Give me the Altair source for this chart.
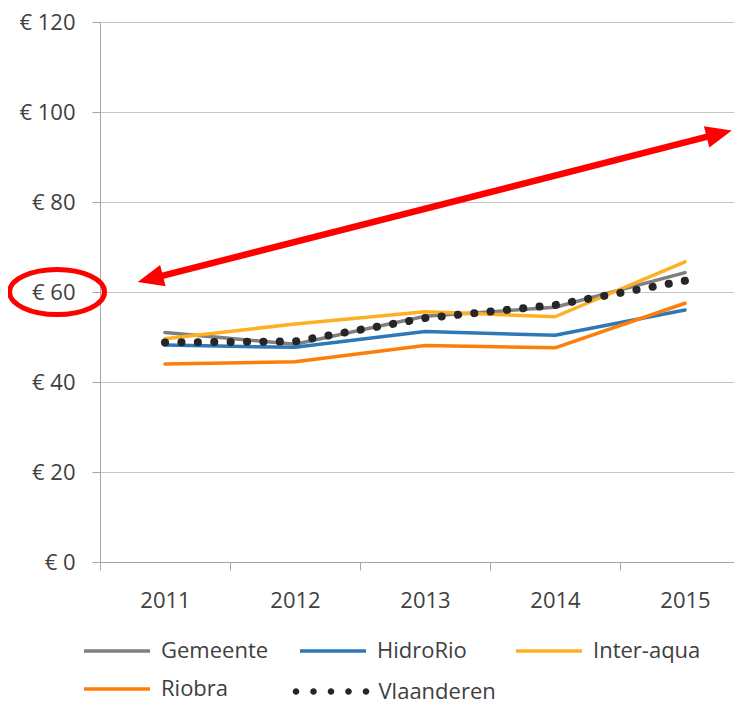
import math
import altair as alt
import pandas as pd

# ---------------- data ----------------
years = [2011, 2012, 2013, 2014, 2015]
series_names = ["Gemeente", "HidroRio", "Inter-aqua", "Riobra"]
gemeente = [51.0, 48.4, 54.6, 56.6, 64.3]
hidrorio = [48.2, 47.7, 51.2, 50.4, 56.0]
inter_aqua = [49.6, 52.9, 55.6, 54.5, 66.7]
riobra = [44.0, 44.5, 48.1, 47.6, 57.5]
series_values = [gemeente, hidrorio, inter_aqua, riobra]
series_colors = ["#7f7f7f", "#2e78b7", "#fdb022", "#fc7f0a"]
avg_name = "Vlaanderen"
vlaanderen = [48.8, 49.0, 54.2, 57.1, 62.5]
avg_color = "#262626"
y_ticks = [0, 20, 40, 60, 80, 100, 120]

# annotations (data units)
arrow_start = (2010.79, 62.2)
arrow_end = (2015.36, 95.9)
highlight_value = 60

# ---------------- layout ----------------
W, H = 634, 540
x_domain = [2010.5, 2010.5 + W / 130.0]
y_domain = [0, 120]
px_per_year = W / (x_domain[1] - x_domain[0])
px_per_eur = H / (y_domain[1] - y_domain[0])

FONT = "Open Sans"
TXT = "#404040"
AX = "#a6a6a6"

rows = []
for name, vals in zip(series_names, series_values):
    for yr, v in zip(years, vals):
        rows.append({"year": yr, "value": v, "series": name})
df = pd.DataFrame(rows)
df_avg = pd.DataFrame({"year": years, "value": vlaanderen, "series": [avg_name] * len(years)})

xs = alt.Scale(domain=x_domain, nice=False, zero=False)
ys = alt.Scale(domain=y_domain, nice=False, zero=False)

x_axis = alt.Axis(values=years, format="d", tickOffset=-65, labelOffset=65,
                  tickSize=8, labelPadding=20, grid=False, title=None,
                  domainColor=AX, tickColor=AX, labelFont=FONT, labelFontSize=22,
                  labelColor=TXT)
y_axis = alt.Axis(values=y_ticks, labelExpr="'€ ' + datum.value", tickSize=8,
                  labelPadding=17, grid=True, gridColor="#c4c4c4", title=None,
                  domainColor=AX, tickColor=AX, labelFont=FONT, labelFontSize=22,
                  labelColor=TXT)

# long horizontal stroke as legend symbol (66 px long for symbolSize 484)
stroke_path = "M -2 0 L 4 0"

lines = alt.Chart(df).mark_line(strokeWidth=3.5, strokeCap="round", strokeJoin="round").encode(
    x=alt.X("year:Q", scale=xs, axis=x_axis),
    y=alt.Y("value:Q", scale=ys, axis=y_axis),
    color=alt.Color("series:N",
                    scale=alt.Scale(domain=series_names, range=series_colors),
                    legend=alt.Legend(orient="none", legendX=-7, legendY=616,
                                      direction="horizontal", columns=3, title=None,
                                      symbolType=stroke_path, symbolSize=484,
                                      symbolStrokeWidth=3.5,
                                      labelFont=FONT, labelFontSize=22,
                                      labelColor=TXT, labelOffset=42, gridAlign="all",
                                      columnPadding=24, rowPadding=14, padding=0)),
)

# five round dots as legend symbol for the dotted average line
r = 0.19
dots_path = " ".join(
    f"M {c - r:.3f} 0 A {r} {r} 0 1 0 {c + r:.3f} 0 A {r} {r} 0 1 0 {c - r:.3f} 0 Z"
    for c in (-2, -1, 0, 1, 2)
)

avg_line = alt.Chart(df_avg).mark_line(color=avg_color, strokeWidth=8, strokeCap="round",
                                       strokeDash=[0.1, 16.3]).encode(
    x=alt.X("year:Q", scale=xs),
    y=alt.Y("value:Q", scale=ys),
    opacity=alt.Opacity("series:N", scale=alt.Scale(domain=[avg_name], range=[1]),
                        legend=alt.Legend(orient="none", legendX=213.5, legendY=652,
                                          title=None, symbolType=dots_path, symbolSize=1225,
                                          symbolFillColor=avg_color, symbolStrokeWidth=0,
                                          symbolOpacity=1,
                                          labelFont=FONT, labelFontSize=22,
                                          labelColor=TXT, labelOffset=30, padding=0)),
)

# ---- double-headed arrow ----
dxp = (arrow_end[0] - arrow_start[0]) * px_per_year
dyp = (arrow_end[1] - arrow_start[1]) * px_per_eur
L = math.hypot(dxp, dyp)
theta = math.degrees(math.atan2(dyp, dxp))
short = 14.0 / L
shaft = pd.DataFrame({
    "x": [arrow_start[0] + (arrow_end[0] - arrow_start[0]) * short],
    "y": [arrow_start[1] + (arrow_end[1] - arrow_start[1]) * short],
    "x2": [arrow_end[0] - (arrow_end[0] - arrow_start[0]) * short],
    "y2": [arrow_end[1] - (arrow_end[1] - arrow_start[1]) * short],
})
shaft_layer = alt.Chart(shaft).mark_rule(color="#ff0000", strokeWidth=6.5).encode(
    x=alt.X("x:Q", scale=xs), y=alt.Y("y:Q", scale=ys), x2="x2:Q", y2="y2:Q")

head_path = "M 0 0 L -2.6 -1.1 L -2.6 1.1 Z"
head_r = pd.DataFrame({"x": [arrow_end[0]], "y": [arrow_end[1]]})
head_l = pd.DataFrame({"x": [arrow_start[0]], "y": [arrow_start[1]]})
head_r_layer = alt.Chart(head_r).mark_point(shape=head_path, size=400, filled=True,
                                           color="#ff0000", opacity=1,
                                           angle=(360 - theta) % 360).encode(
    x=alt.X("x:Q", scale=xs), y=alt.Y("y:Q", scale=ys))
head_l_layer = alt.Chart(head_l).mark_point(shape=head_path, size=400, filled=True,
                                           color="#ff0000", opacity=1,
                                           angle=(180 - theta) % 360).encode(
    x=alt.X("x:Q", scale=xs), y=alt.Y("y:Q", scale=ys))

# ---- ellipse around € 60 ----
ell_path = "M -1 0 A 1 0.474 0 1 0 1 0 A 1 0.474 0 1 0 -1 0 Z"
ell = pd.DataFrame({"v": [highlight_value]})
ell_layer = alt.Chart(ell).mark_point(shape=ell_path, size=95 * 95, filled=False,
                                      color="#ff0000", strokeWidth=5, opacity=1).encode(
    x=alt.value(-43), y=alt.Y("v:Q", scale=ys))

chart = alt.layer(lines, avg_line, shaft_layer, head_r_layer, head_l_layer, ell_layer).properties(
    width=W, height=H,
    autosize=alt.AutoSizeParams(type="none"),
    padding={"left": 92, "top": 14, "right": 0, "bottom": 137},
    background="white",
).configure_view(stroke=None)

chart.save("out.html", embed_options={"renderer": "svg", "actions": False})
